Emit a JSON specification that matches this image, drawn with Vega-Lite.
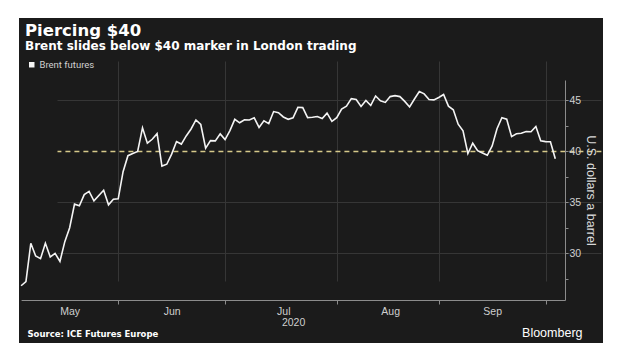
{
  "$schema": "https://vega.github.io/schema/vega-lite/v6.json",
  "width": 584,
  "height": 325,
  "autosize": {"type": "none"},
  "padding": {"left": 19, "top": 18, "right": 17, "bottom": 12},
  "background": "#ffffff",
  "config": {"view": {"fill": "#1b1b1b", "stroke": null}, "font": "Liberation Sans"},
  "title": {
    "text": "Piercing $40",
    "subtitle": "Brent slides below $40 marker in London trading",
    "anchor": "start",
    "frame": "group",
    "dx": 6,
    "offset": -34,
    "font": "DejaVu Sans",
    "fontSize": 16.5,
    "fontWeight": "bold",
    "color": "#ffffff",
    "subtitleFont": "DejaVu Sans",
    "subtitleFontSize": 12,
    "subtitleFontWeight": "bold",
    "subtitleColor": "#ffffff",
    "subtitlePadding": 1.5
  },
  "data": {
    "values": [
      {"date": "2020-05-01", "price": 26.8},
      {"date": "2020-05-04", "price": 27.2},
      {"date": "2020-05-05", "price": 30.97},
      {"date": "2020-05-06", "price": 29.72},
      {"date": "2020-05-07", "price": 29.46},
      {"date": "2020-05-08", "price": 30.97},
      {"date": "2020-05-11", "price": 29.63},
      {"date": "2020-05-12", "price": 29.98},
      {"date": "2020-05-13", "price": 29.19},
      {"date": "2020-05-14", "price": 31.13},
      {"date": "2020-05-15", "price": 32.5},
      {"date": "2020-05-18", "price": 34.81},
      {"date": "2020-05-19", "price": 34.65},
      {"date": "2020-05-20", "price": 35.75},
      {"date": "2020-05-21", "price": 36.06},
      {"date": "2020-05-22", "price": 35.13},
      {"date": "2020-05-26", "price": 36.17},
      {"date": "2020-05-27", "price": 34.74},
      {"date": "2020-05-28", "price": 35.29},
      {"date": "2020-05-29", "price": 35.33},
      {"date": "2020-06-01", "price": 38.0},
      {"date": "2020-06-02", "price": 39.57},
      {"date": "2020-06-03", "price": 39.79},
      {"date": "2020-06-04", "price": 39.99},
      {"date": "2020-06-05", "price": 42.3},
      {"date": "2020-06-08", "price": 40.8},
      {"date": "2020-06-09", "price": 41.18},
      {"date": "2020-06-10", "price": 41.73},
      {"date": "2020-06-11", "price": 38.55},
      {"date": "2020-06-12", "price": 38.73},
      {"date": "2020-06-15", "price": 39.72},
      {"date": "2020-06-16", "price": 40.96},
      {"date": "2020-06-17", "price": 40.71},
      {"date": "2020-06-18", "price": 41.51},
      {"date": "2020-06-19", "price": 42.19},
      {"date": "2020-06-22", "price": 43.08},
      {"date": "2020-06-23", "price": 42.63},
      {"date": "2020-06-24", "price": 40.31},
      {"date": "2020-06-25", "price": 41.05},
      {"date": "2020-06-26", "price": 41.02},
      {"date": "2020-06-29", "price": 41.71},
      {"date": "2020-06-30", "price": 41.15},
      {"date": "2020-07-01", "price": 42.03},
      {"date": "2020-07-02", "price": 43.14},
      {"date": "2020-07-03", "price": 42.8},
      {"date": "2020-07-06", "price": 43.1},
      {"date": "2020-07-07", "price": 43.08},
      {"date": "2020-07-08", "price": 43.29},
      {"date": "2020-07-09", "price": 42.35},
      {"date": "2020-07-10", "price": 43.0},
      {"date": "2020-07-13", "price": 42.72},
      {"date": "2020-07-14", "price": 43.9},
      {"date": "2020-07-15", "price": 43.79},
      {"date": "2020-07-16", "price": 43.37},
      {"date": "2020-07-17", "price": 43.14},
      {"date": "2020-07-20", "price": 43.28},
      {"date": "2020-07-21", "price": 44.32},
      {"date": "2020-07-22", "price": 44.29},
      {"date": "2020-07-23", "price": 43.31},
      {"date": "2020-07-24", "price": 43.34},
      {"date": "2020-07-27", "price": 43.41},
      {"date": "2020-07-28", "price": 43.22},
      {"date": "2020-07-29", "price": 43.75},
      {"date": "2020-07-30", "price": 42.94},
      {"date": "2020-07-31", "price": 43.3},
      {"date": "2020-08-03", "price": 44.15},
      {"date": "2020-08-04", "price": 44.43},
      {"date": "2020-08-05", "price": 45.17},
      {"date": "2020-08-06", "price": 45.09},
      {"date": "2020-08-07", "price": 44.4},
      {"date": "2020-08-10", "price": 44.99},
      {"date": "2020-08-11", "price": 44.5},
      {"date": "2020-08-12", "price": 45.43},
      {"date": "2020-08-13", "price": 44.96},
      {"date": "2020-08-14", "price": 44.8},
      {"date": "2020-08-17", "price": 45.37},
      {"date": "2020-08-18", "price": 45.46},
      {"date": "2020-08-19", "price": 45.37},
      {"date": "2020-08-20", "price": 44.9},
      {"date": "2020-08-21", "price": 44.35},
      {"date": "2020-08-24", "price": 45.13},
      {"date": "2020-08-25", "price": 45.86},
      {"date": "2020-08-26", "price": 45.64},
      {"date": "2020-08-27", "price": 45.09},
      {"date": "2020-08-28", "price": 45.05},
      {"date": "2020-08-31", "price": 45.28},
      {"date": "2020-09-01", "price": 45.58},
      {"date": "2020-09-02", "price": 44.43},
      {"date": "2020-09-03", "price": 44.07},
      {"date": "2020-09-04", "price": 42.66},
      {"date": "2020-09-07", "price": 42.01},
      {"date": "2020-09-08", "price": 39.78},
      {"date": "2020-09-09", "price": 40.79},
      {"date": "2020-09-10", "price": 40.06},
      {"date": "2020-09-11", "price": 39.83},
      {"date": "2020-09-14", "price": 39.61},
      {"date": "2020-09-15", "price": 40.53},
      {"date": "2020-09-16", "price": 42.22},
      {"date": "2020-09-17", "price": 43.3},
      {"date": "2020-09-18", "price": 43.15},
      {"date": "2020-09-21", "price": 41.44},
      {"date": "2020-09-22", "price": 41.72},
      {"date": "2020-09-23", "price": 41.77},
      {"date": "2020-09-24", "price": 41.94},
      {"date": "2020-09-25", "price": 41.92},
      {"date": "2020-09-28", "price": 42.43},
      {"date": "2020-09-29", "price": 41.03},
      {"date": "2020-09-30", "price": 40.95},
      {"date": "2020-10-01", "price": 40.93},
      {"date": "2020-10-02", "price": 39.27}
    ]
  },
  "layer": [
    {
      "mark": {"type": "line", "strokeWidth": 1.6},
      "encoding": {
        "x": {
          "field": "date",
          "type": "ordinal",
          "scale": {
            "type": "point",
            "domain": ["2020-05-01","2020-05-04","2020-05-05","2020-05-06","2020-05-07","2020-05-08","2020-05-11","2020-05-12","2020-05-13","2020-05-14","2020-05-15","2020-05-18","2020-05-19","2020-05-20","2020-05-21","2020-05-22","2020-05-25","2020-05-26","2020-05-27","2020-05-28","2020-05-29",
              "2020-06-01","2020-06-02","2020-06-03","2020-06-04","2020-06-05","2020-06-08","2020-06-09","2020-06-10","2020-06-11","2020-06-12","2020-06-15","2020-06-16","2020-06-17","2020-06-18","2020-06-19","2020-06-22","2020-06-23","2020-06-24","2020-06-25","2020-06-26","2020-06-29","2020-06-30",
              "2020-07-01","2020-07-02","2020-07-03","2020-07-06","2020-07-07","2020-07-08","2020-07-09","2020-07-10","2020-07-13","2020-07-14","2020-07-15","2020-07-16","2020-07-17","2020-07-20","2020-07-21","2020-07-22","2020-07-23","2020-07-24","2020-07-27","2020-07-28","2020-07-29","2020-07-30","2020-07-31",
              "2020-08-03","2020-08-04","2020-08-05","2020-08-06","2020-08-07","2020-08-10","2020-08-11","2020-08-12","2020-08-13","2020-08-14","2020-08-17","2020-08-18","2020-08-19","2020-08-20","2020-08-21","2020-08-24","2020-08-25","2020-08-26","2020-08-27","2020-08-28","2020-08-31",
              "2020-09-01","2020-09-02","2020-09-03","2020-09-04","2020-09-07","2020-09-08","2020-09-09","2020-09-10","2020-09-11","2020-09-14","2020-09-15","2020-09-16","2020-09-17","2020-09-18","2020-09-21","2020-09-22","2020-09-23","2020-09-24","2020-09-25","2020-09-28","2020-09-29","2020-09-30",
              "2020-10-01","2020-10-02"],
            "range": [2.1, 546],
            "padding": 1.45,
            "align": 0,
            "round": false
          },
          "axis": {
            "orient": "bottom",
            "offset": -43,
            "values": ["2020-05-29","2020-06-30","2020-07-31","2020-08-31","2020-09-30","2020-05-15","2020-06-15","2020-07-16","2020-08-17","2020-09-15"],
            "labelExpr": "datum.value == '2020-05-15' ? 'May' : datum.value == '2020-06-15' ? 'Jun' : datum.value == '2020-07-16' ? 'Jul' : datum.value == '2020-08-17' ? 'Aug' : datum.value == '2020-09-15' ? 'Sep' : ''",
            "labelAngle": 0,
            "labelOverlap": false,
            "labelColor": "#cfcfcf",
            "labelFontSize": 10.5,
            "labelPadding": 2,
            "tickSize": 4,
            "tickColor": "#8c8c8c",
            "tickOpacity": {"condition": {"test": "indexof(['2020-05-29','2020-06-30','2020-07-31','2020-08-31','2020-09-30'], datum.value) >= 0", "value": 1}, "value": 0},
            "domainColor": "#8c8c8c",
            "grid": true,
            "gridColor": "#363636",
            "gridOpacity": {"condition": {"test": "indexof(['2020-05-29','2020-06-30','2020-07-31','2020-08-31','2020-09-30'], datum.value) >= 0", "value": 1}, "value": 0},
            "title": "2020",
            "titleFontSize": 10.5,
            "titleFontWeight": "normal",
            "titleColor": "#cfcfcf",
            "titlePadding": 1
          }
        },
        "y": {
          "field": "price",
          "type": "quantitative",
          "scale": {"domain": [25.4, 47], "range": [282, 62], "nice": false, "zero": false},
          "axis": {
            "orient": "right",
            "offset": -38,
            "values": [27.5, 30, 32.5, 35, 37.5, 40, 42.5, 45],
            "labelExpr": "datum.value % 5 == 0 ? datum.label : ''",
            "tickSize": 3,
            "tickColor": "#8c8c8c",
            "domainColor": "#8c8c8c",
            "grid": true,
            "gridColor": {"condition": {"test": "datum.value == 40", "value": "#d6c98a"}, "value": "#363636"},
            "gridDash": {"condition": {"test": "datum.value == 40", "value": [5, 4]}, "value": []},
            "gridOpacity": {"condition": {"test": "datum.value % 5 == 0", "value": 1}, "value": 0},
            "gridWidth": {"condition": {"test": "datum.value == 40", "value": 1.3}, "value": 1},
            "labelColor": "#d0d0d0",
            "labelFontSize": 10.5,
            "labelPadding": 1,
            "title": "U.S. dollars a barrel",
            "titleColor": "#d8d8d8",
            "titleFontSize": 12.5,
            "titleFontWeight": "normal",
            "titleAngle": 90,
            "titlePadding": 3
          }
        },
        "color": {
          "datum": "Brent futures",
          "scale": {"range": ["#f4f4f4"]},
          "legend": {
            "orient": "none",
            "legendX": 8,
            "legendY": 42,
            "title": null,
            "symbolType": "square",
            "symbolSize": 30,
            "symbolFillColor": "#f4f4f4",
            "symbolStrokeWidth": 0,
            "labelColor": "#d0d0d0",
            "labelFontSize": 9.5,
            "labelFont": "Roboto",
            "labelOffset": 3,
            "padding": 0
          }
        }
      }
    },
    {
      "mark": {"type": "point", "opacity": 0},
      "encoding": {
        "x": {
          "field": "date",
          "type": "ordinal",
          "axis": {
            "orient": "bottom",
            "offset": -43,
            "domain": false,
            "ticks": false,
            "labels": false,
            "grid": false,
            "title": "Source: ICE Futures Europe",
            "titleX": 8,
            "titleY": 36,
            "titleAlign": "left",
            "titleAnchor": "start",
            "titleBaseline": "alphabetic",
            "titleFont": "DejaVu Sans",
            "titleFontSize": 8.5,
            "titleFontWeight": "bold",
            "titleColor": "#ffffff"
          }
        }
      }
    },
    {
      "mark": {"type": "point", "opacity": 0},
      "encoding": {
        "x": {
          "field": "date",
          "type": "ordinal",
          "axis": {
            "orient": "bottom",
            "offset": -43,
            "domain": false,
            "ticks": false,
            "labels": false,
            "grid": false,
            "title": "Bloomberg",
            "titleX": 563,
            "titleY": 36,
            "titleAlign": "right",
            "titleAnchor": "end",
            "titleBaseline": "alphabetic",
            "titleFont": "Liberation Sans",
            "titleFontSize": 12.5,
            "titleFontWeight": "normal",
            "titleColor": "#ffffff"
          }
        }
      }
    }
  ],
  "resolve": {"axis": {"x": "independent"}}
}
